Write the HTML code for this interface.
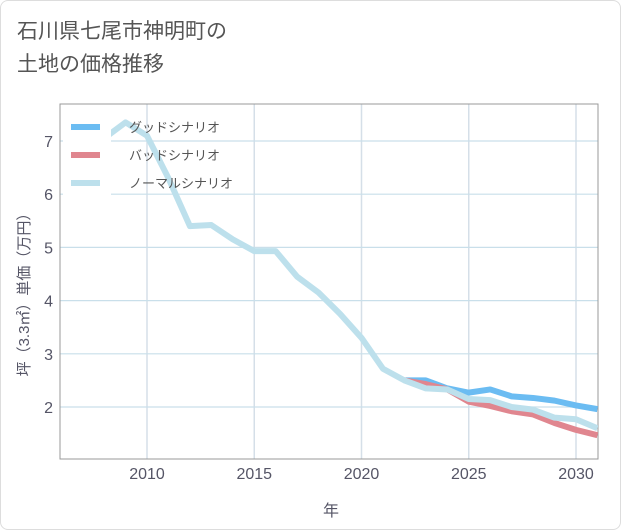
<!DOCTYPE html>
<html><head><meta charset="utf-8"><style>
body{margin:0;background:#fff;font-family:"Liberation Sans","Noto Sans CJK JP",sans-serif;}
#wrap{position:relative;width:619px;height:528px;border:1px solid #ddd;border-radius:8px;overflow:hidden;background:#fff}
#title{position:absolute;left:16px;top:14px;font-size:21px;line-height:33px;color:#555;}
</style></head><body>
<div id="wrap">
<div id="title">石川県七尾市神明町の<br>土地の価格推移</div>
<svg id="svg" width="621" height="530" style="position:absolute;left:0;top:0"></svg>
</div>
<script>
const years=[2008,2009,2010,2011,2012,2013,2014,2015,2016,2017,2018,2019,2020,2021,2022,2023,2024,2025,2026,2027,2028,2029,2030,2031];
const normal=[7.05,7.35,7.1,6.3,5.4,5.42,5.15,4.93,4.93,4.45,4.15,3.75,3.3,2.72,2.5,2.35,2.33,2.15,2.13,2.0,1.95,1.8,1.77,1.6];
const goodYears=[2022,2023,2024,2025,2026,2027,2028,2029,2030,2031];
const good=[2.5,2.5,2.35,2.27,2.33,2.2,2.17,2.12,2.03,1.96];
const bad=[2.5,2.43,2.33,2.1,2.02,1.92,1.86,1.7,1.57,1.47];
const xTicks=[2010,2015,2020,2025,2030];
const yTicks=[2,3,4,5,6,7];
const L=59,R=597,T=103,B=458;
const x=v=>146+(v-2010)*21.45;
const y=v=>406-(v-2)*53.2;
const svg=document.getElementById('svg');
const NS='http://www.w3.org/2000/svg';
function mk(t,a,p){const e=document.createElementNS(NS,t);for(const k in a)e.setAttribute(k,a[k]);(p||svg).appendChild(e);return e;}
const grid=mk('g',{});
xTicks.forEach(t=>{mk('line',{x1:x(t),x2:x(t),y1:T,y2:B,stroke:'#d5dfe8','stroke-width':1.5},grid);
 const tx=mk('text',{x:x(t),y:478,'text-anchor':'middle','font-size':16,fill:'#556'});tx.textContent=t;
 });
yTicks.forEach(t=>{mk('line',{x1:L,x2:R,y1:y(t),y2:y(t),stroke:'#c9dfea','stroke-width':1.2},grid);
 const tx=mk('text',{x:52,y:y(t)+6,'text-anchor':'end','font-size':16,fill:'#556'});tx.textContent=t;
 });
mk('rect',{x:L,y:T,width:R-L,height:B-T,fill:'none',stroke:'#999','stroke-width':1});
const clip=mk('clipPath',{id:'c'});mk('rect',{x:L,y:T,width:R-L,height:B-T},clip);
const g=mk('g',{'clip-path':'url(#c)'});
function line(xs,vs,c,n){const p=mk('polyline',{points:vs.map((v,i)=>x(xs[i])+','+y(v)).join(' '),fill:'none',stroke:c,'stroke-width':6,'stroke-linejoin':'round'},g);
 }
line(goodYears,good,'#6bbcf2','good-scenario-line');
line(goodYears,bad,'#e0868f','bad-scenario-line');
line(years,normal,'#bde0ec','normal-scenario-line');
mk('rect',{x:62,y:108,width:48,height:90,fill:'#fff'});
const leg=[['グッドシナリオ','#6bbcf2'],['バッドシナリオ','#e0868f'],['ノーマルシナリオ','#bde0ec']];
leg.forEach((l,i)=>{const yy=126+i*28;
 const s=mk('line',{x1:70,x2:99,y1:yy,y2:yy,stroke:l[1],'stroke-width':6});
 
 const t=mk('text',{x:128,y:yy+5,'font-size':13,fill:'#555'});t.textContent=l[0];
 });
const xt=mk('text',{x:330,y:515,'text-anchor':'middle','font-size':16,fill:'#556'});xt.textContent='年';

const yt=mk('text',{x:0,y:0,'text-anchor':'middle','font-size':15,fill:'#556',transform:'translate(28,290) rotate(-90)'});yt.textContent='坪（3.3㎡）単価（万円）';

</script>
</body></html>
